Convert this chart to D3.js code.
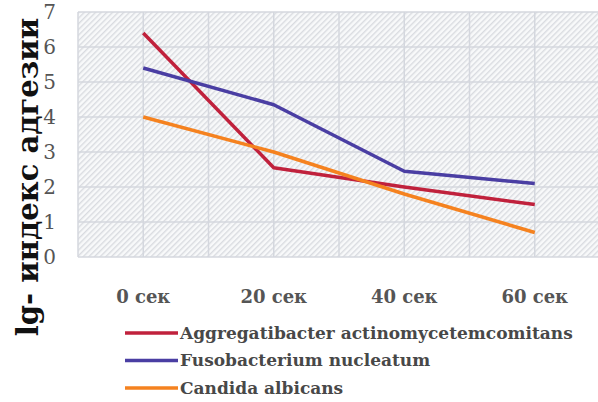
<!DOCTYPE html>
<html>
<head>
<meta charset="utf-8">
<script src="https://cdn.jsdelivr.net/npm/d3@7"></script>
<style>
  body { margin: 0; background: #fff; }
  svg { display: block; }
</style>
</head>
<body>
<div class="chart"></div>
<script>
// chart data
const categories = ['0 сек', '20 сек', '40 сек', '60 сек'];
const seriesNames = ['Aggregatibacter actinomycetemcomitans', 'Fusobacterium nucleatum', 'Candida albicans'];
const aggregatibacter = [6.4, 2.55, 2.0, 1.5];
const fusobacterium = [5.4, 4.35, 2.45, 2.1];
const candida = [4.0, 3.0, 1.8, 0.7];
const yTicks = [0, 1, 2, 3, 4, 5, 6, 7];
const colors = ['#c0213c', '#4a3ea3', '#f5821f'];

const width = 598, height = 402;
const margin = { top: 12, right: -2, bottom: 145, left: 78 };
const plotW = width - margin.left - margin.right;
const plotH = height - margin.top - margin.bottom;
const serif = "'DejaVu Serif', 'Liberation Serif', serif";

const svg = d3.select('.chart').append('svg')
  .attr('width', width)
  .attr('height', height);

// diagonal hatch pattern for the plot background
const defs = svg.append('defs');
const pat = defs.append('pattern')
  .attr('id', 'hatch')
  .attr('patternUnits', 'userSpaceOnUse')
  .attr('width', 4).attr('height', 4)
  .attr('patternTransform', 'rotate(-45)');
pat.append('rect').attr('width', 4).attr('height', 4).attr('fill', '#f8f9fa');
pat.append('rect').attr('width', 4).attr('height', 1.4).attr('fill', '#d9dbe0');

const g = svg.append('g')
  .attr('transform', 'translate(' + margin.left + ',' + margin.top + ')');

const x = d3.scaleBand().domain(categories).range([0, plotW]);
const y = d3.scaleLinear().domain([0, 7]).range([plotH, 0]);

g.append('rect')
  .attr('width', plotW)
  .attr('height', plotH)
  .attr('fill', 'url(#hatch)');

// horizontal grid
g.selectAll('.hgrid')
  .data(yTicks).enter().append('line')
  .attr('x1', 0).attr('x2', plotW)
  .attr('y1', d => y(d)).attr('y2', d => y(d))
  .attr('stroke', '#d4d7de').attr('stroke-width', 1.5);

// vertical grid: band edges and centres
const vLines = [];
categories.forEach(c => {
  vLines.push(x(c));
  vLines.push(x(c) + x.bandwidth() / 2);
});
vLines.push(plotW);
g.selectAll('.vgrid')
  .data(vLines).enter().append('line')
  .attr('x1', d => d).attr('x2', d => d)
  .attr('y1', 0).attr('y2', plotH)
  .attr('stroke', '#d4d7de').attr('stroke-width', 1.5);

// y tick labels
g.selectAll('.ylab')
  .data(yTicks).enter().append('text')
  .attr('x', -22)
  .attr('y', d => y(d))
  .attr('dy', '0.35em')
  .attr('text-anchor', 'end')
  .attr('fill', '#555')
  .style('font-family', serif)
  .style('font-size', '20px')
  .text(d => d);

// x labels
g.selectAll('.xlab')
  .data(categories).enter().append('text')
  .attr('x', d => x(d) + x.bandwidth() / 2)
  .attr('y', plotH + 46)
  .attr('text-anchor', 'middle')
  .attr('fill', '#555')
  .style('font-family', serif)
  .style('font-weight', 'bold')
  .style('font-size', '18px')
  .text(d => d);

// y axis title
svg.append('text')
  .attr('transform', 'translate(38,177) rotate(-90)')
  .attr('text-anchor', 'middle')
  .attr('fill', '#111')
  .style('font-family', serif)
  .style('font-weight', 'bold')
  .style('font-size', '29px')
  .text('lg- индекс адгезии');

// lines
const allSeries = [aggregatibacter, fusobacterium, candida];
const line = d3.line()
  .x((d, i) => x(categories[i]) + x.bandwidth() / 2)
  .y(d => y(d));

g.selectAll('.series')
  .data(allSeries).enter().append('path')
  .attr('d', d => line(d))
  .attr('fill', 'none')
  .attr('stroke', (d, i) => colors[i])
  .attr('stroke-width', 3.5)
  .attr('stroke-linejoin', 'round');

// legend
const legend = svg.append('g').attr('transform', 'translate(125,333)');
seriesNames.forEach((name, i) => {
  const row = legend.append('g').attr('transform', 'translate(0,' + i * 27.5 + ')');
  row.append('line')
    .attr('x1', 0).attr('x2', 53)
    .attr('stroke', colors[i]).attr('stroke-width', 3.5);
  row.append('text')
    .attr('x', 55)
    .attr('dy', '0.35em')
    .attr('fill', '#484848')
    .style('font-family', serif)
    .style('font-weight', 'bold')
    .style('font-size', '17px')
    .text(name);
});
</script>
</body>
</html>
